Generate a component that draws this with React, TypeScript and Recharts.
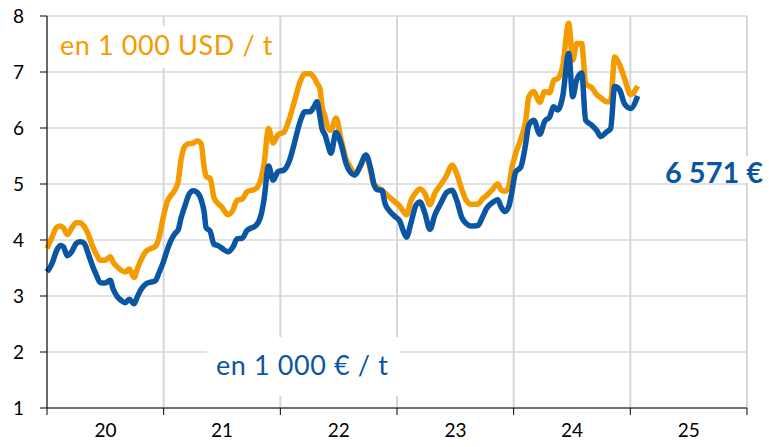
import React from 'react';
import { LineChart, Line, XAxis, YAxis, CartesianGrid } from 'recharts';

// dates as decimal years (20 = 2020)
const dates = [
  20.0, 20.043, 20.08, 20.114, 20.14, 20.174, 20.208, 20.251, 20.285, 20.319,
  20.354, 20.388, 20.422, 20.456, 20.499, 20.542, 20.568, 20.602, 20.636, 20.67,
  20.705, 20.747, 20.773, 20.807, 20.85, 20.893, 20.927, 20.961, 20.996, 21.03,
  21.064, 21.098, 21.124, 21.15, 21.184, 21.218, 21.253, 21.287, 21.321, 21.347,
  21.364, 21.398, 21.432, 21.467, 21.501, 21.552, 21.595, 21.629, 21.672, 21.715,
  21.758, 21.792, 21.835, 21.86, 21.899, 21.938, 21.98, 22.032, 22.075, 22.117,
  22.169, 22.211, 22.254, 22.289, 22.314, 22.34, 22.357, 22.383, 22.408, 22.434,
  22.477, 22.52, 22.563, 22.597, 22.64, 22.682, 22.734, 22.777, 22.802, 22.828,
  22.871, 22.896, 22.939, 22.982, 23.025, 23.051, 23.082, 23.119, 23.162, 23.196,
  23.239, 23.282, 23.325, 23.376, 23.427, 23.47, 23.513, 23.556, 23.59, 23.633,
  23.693, 23.735, 23.77, 23.813, 23.864, 23.89, 23.924, 23.958, 23.984, 24.018,
  24.061, 24.104, 24.129, 24.172, 24.224, 24.266, 24.309, 24.343, 24.378, 24.42,
  24.472, 24.506, 24.54, 24.583, 24.617, 24.669, 24.711, 24.746, 24.797, 24.831,
  24.866, 24.908, 24.951, 25.003, 25.063,
];

// en 1 000 USD / t
const usd = [
  3.85, 4.05, 4.22, 4.25, 4.22, 4.1, 4.2, 4.31, 4.31, 4.24,
  4.1, 3.9, 3.75, 3.64, 3.64, 3.7, 3.6, 3.52, 3.46, 3.43,
  3.48, 3.33, 3.48, 3.65, 3.8, 3.85, 3.88, 4.05, 4.4, 4.68,
  4.8, 4.9, 5.04, 5.45, 5.68, 5.72, 5.73, 5.77, 5.72, 5.3,
  5.13, 5.1, 4.75, 4.65, 4.58, 4.45, 4.54, 4.71, 4.73, 4.86,
  4.89, 4.92, 5.1, 5.35, 5.99, 5.73, 5.88, 5.93, 6.15, 6.45,
  6.82, 6.97, 6.97, 6.9, 6.8, 6.7, 6.4, 6.2, 6.0, 5.96,
  6.18, 5.8, 5.45, 5.31, 5.19, 5.3, 5.5, 5.2, 4.98, 4.95,
  4.88, 4.84, 4.76, 4.68, 4.6, 4.52, 4.45, 4.7, 4.85, 4.91,
  4.83, 4.63, 4.84, 4.99, 5.16, 5.34, 5.18, 4.9, 4.72, 4.64,
  4.64, 4.74, 4.8, 4.89, 5.0, 4.9, 4.87, 4.95, 5.28, 5.55,
  5.8, 6.14, 6.55, 6.65, 6.46, 6.65, 6.63, 6.85, 6.88, 7.1,
  7.87, 7.21, 7.51, 7.51, 6.8, 6.72, 6.6, 6.54, 6.47, 6.47,
  7.27, 7.13, 6.88, 6.6, 6.75,
];

// en 1 000 € / t
const eur = [
  3.43, 3.58, 3.8, 3.9, 3.88, 3.72, 3.78, 3.94, 3.97, 3.94,
  3.75, 3.55, 3.38, 3.24, 3.23, 3.28, 3.12, 2.99, 2.92, 2.88,
  2.94, 2.86, 2.98, 3.12, 3.22, 3.25, 3.27, 3.42, 3.6, 3.82,
  4.0, 4.12, 4.18, 4.4, 4.62, 4.82, 4.88, 4.85, 4.72, 4.5,
  4.22, 4.16, 3.92, 3.9, 3.85, 3.79, 3.88, 4.02, 4.03, 4.17,
  4.22, 4.26, 4.45, 4.72, 5.32, 5.07, 5.22, 5.25, 5.4, 5.7,
  6.11, 6.29, 6.29, 6.38, 6.47, 6.2, 5.99, 5.88, 5.7, 5.55,
  5.92, 5.72, 5.37, 5.22, 5.16, 5.31, 5.52, 5.25, 5.0, 4.9,
  4.89, 4.66, 4.51, 4.42, 4.33, 4.18, 4.05, 4.3, 4.62, 4.68,
  4.48, 4.19, 4.45, 4.66, 4.85, 4.89, 4.7, 4.4, 4.3, 4.25,
  4.26, 4.42, 4.57, 4.66, 4.72, 4.6, 4.51, 4.6, 4.85, 5.22,
  5.3, 5.73, 6.05, 6.14, 5.89, 6.12, 6.2, 6.38, 6.32, 6.56,
  7.33, 6.56, 6.86, 6.98, 6.14, 6.05, 5.96, 5.85, 5.93, 5.99,
  6.74, 6.68, 6.43, 6.35, 6.57,
];

const yTicks = [1, 2, 3, 4, 5, 6, 7, 8];
const yearTicks = [20, 21, 22, 23, 24, 25, 26];

const data = dates.map((t, i) => ({ t, usd: usd[i], eur: eur[i] }));

const ORANGE = '#F49B00';
const BLUE = '#0A56A2';
const FONT = 'Lato, "Open Sans", sans-serif';
const YEAR_PX = 116.8;

const YearTick = (props: any) => {
  const { x, y, payload } = props;
  if (payload.value >= 26) return <g />;
  return (
    <text x={x + YEAR_PX / 2} y={y} dy="0.71em" textAnchor="middle" fontSize={19} fill="#000" fontFamily={FONT}>
      {payload.value}
    </text>
  );
};

const App: React.FC = () => {
  return (
    <div style={{ position: 'relative', width: 769, height: 447, background: '#fff' }}>
      <style>{'body{margin:0}'}</style>
      <LineChart width={769} height={447} data={data} margin={{ top: 16, right: 22, bottom: 9, left: 0 }}>
        <CartesianGrid vertical={false} stroke="#c4c4c4" />
        <CartesianGrid horizontal={false} stroke="#d6d6d6" strokeWidth={2} />
        <XAxis
          dataKey="t"
          type="number"
          domain={[20, 26]}
          ticks={yearTicks}
          interval={0}
          height={30}
          tickSize={7}
          tickMargin={9}
          axisLine={{ stroke: '#000' }}
          tickLine={{ stroke: '#000' }}
          tick={<YearTick />}
        />
        <YAxis
          type="number"
          domain={[1, 8]}
          ticks={yTicks}
          interval={0}
          width={47}
          tickSize={7}
          tickMargin={16}
          axisLine={{ stroke: '#000' }}
          tickLine={{ stroke: '#000' }}
          tick={{ fill: '#000', fontSize: 19, fontFamily: FONT }}
        />
        <Line type="monotone" dataKey="usd" stroke={ORANGE} strokeWidth={5.5} dot={false} isAnimationActive={false} strokeLinejoin="round" />
        <Line type="monotone" dataKey="eur" stroke={BLUE} strokeWidth={5.5} dot={false} isAnimationActive={false} strokeLinejoin="round" />
      </LineChart>
      <svg width={769} height={447} style={{ position: 'absolute', left: 0, top: 0, pointerEvents: 'none' }}>
        <rect x={55} y={26} width={222} height={42} fill="#fff" />
        <text x={60} y={55} fontSize={27} letterSpacing={0.6} fill={ORANGE} fontFamily={FONT}>en 1 000 USD / t</text>
        <rect x={207} y={337} width={193} height={59} fill="#fff" />
        <text x={216} y={375} fontSize={27} letterSpacing={0.6} fill={BLUE} fontFamily={FONT}>en 1 000 € / t</text>
        <rect x={660} y={156} width={109} height={27} fill="#fff" />
        <text x={665} y={183} fontSize={29} fontWeight="bold" fill={BLUE} fontFamily={FONT}>6 571 €</text>
      </svg>
    </div>
  );
};

export default App;
